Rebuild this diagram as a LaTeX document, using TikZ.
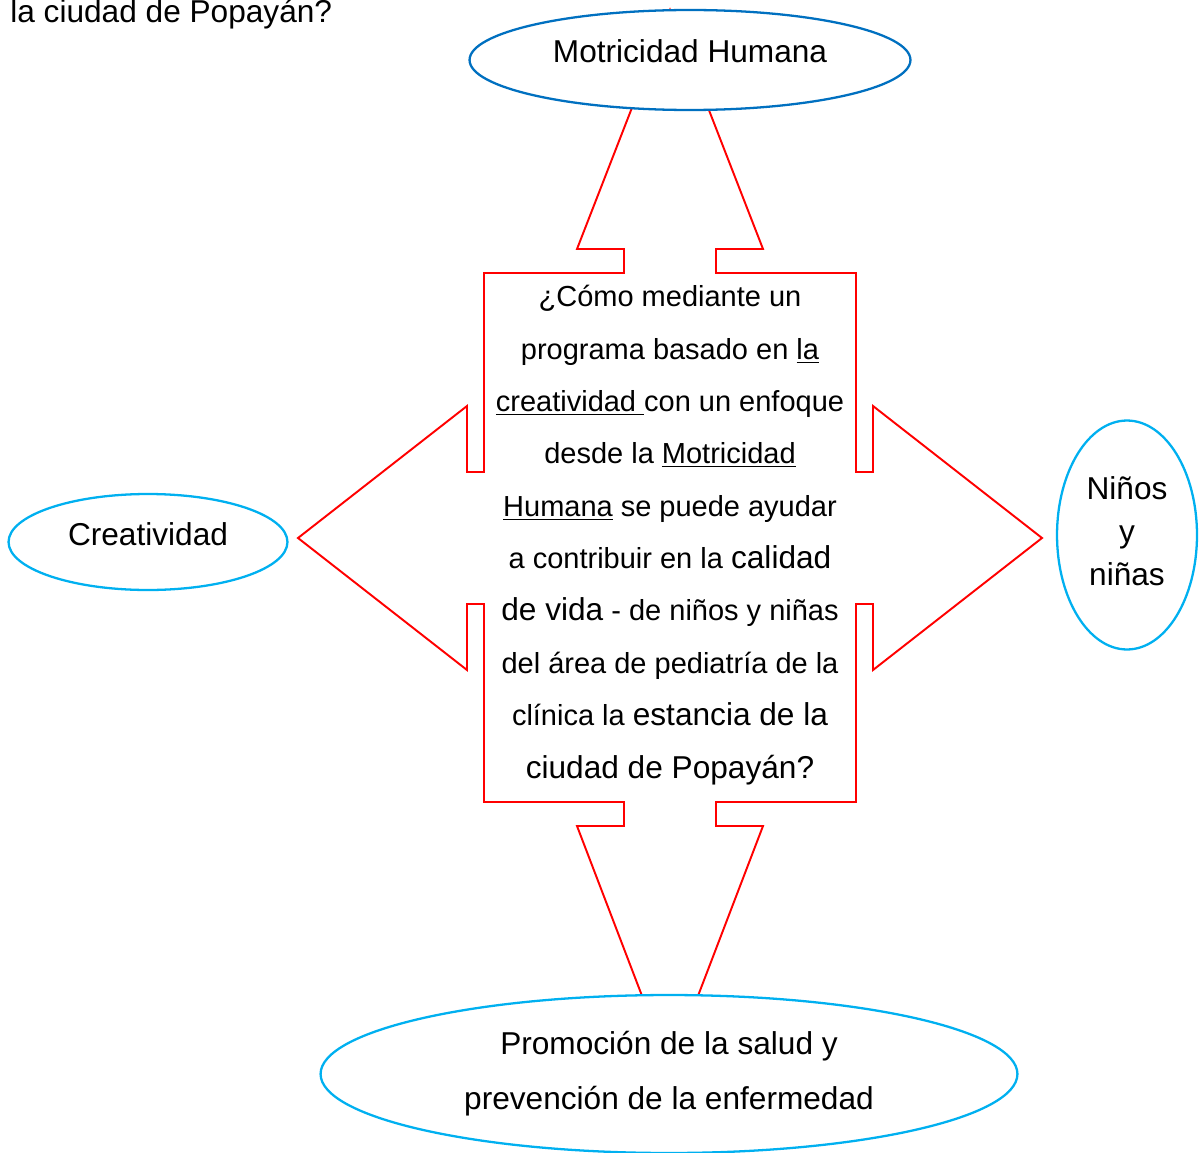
\documentclass[tikz,border=0pt]{standalone}
\usepackage{fontspec}
\setmainfont{Liberation Sans}
\usetikzlibrary{shapes.geometric, positioning}

\definecolor{darkblue}{RGB}{0,112,192}
\definecolor{lightblue}{RGB}{0,176,240}
\newcommand{\grande}[1]{{\fontsize{18}{29.8}\selectfont #1}}

\begin{document}
\begin{tikzpicture}[x=0.02cm, y=-0.02cm,
    concept/.style={shape=ellipse, draw=lightblue, line width=1.3pt, fill=white,
      inner sep=0pt, align=center, font=\fontsize{18}{24}\selectfont},
    question/.style={align=center, inner sep=0pt, font=\fontsize{16.5}{29.8}\selectfont},
    crossarrow/.style={draw=red, line width=1.1pt, line join=miter}]
    \useasboundingbox (0,0) rectangle (1199,1152);

    % Cut text at the top
    \node[anchor=base west, inner sep=0pt, font=\fontsize{18}{24}\selectfont] (fragmento) at (10,23) {la ciudad de Popay\'an?};

    % Draw the four-way arrow
    \draw[crossarrow] (484,273) -- (624,273) -- (624,249) -- (577,249) -- (670,10)
      -- (763,249) -- (716,249) -- (716,273) -- (856,273) -- (856,472) -- (873,472)
      -- (873,406) -- (1042,538) -- (873,670) -- (873,604) -- (856,604) -- (856,802)
      -- (716,802) -- (716,826) -- (763,826) -- (670,1069) -- (577,826) -- (624,826)
      -- (624,802) -- (484,802) -- (484,604) -- (467,604) -- (467,670) -- (298,538)
      -- (467,406) -- (467,472) -- (484,472) -- cycle;

    % Define nodes
    \node[question] (pregunta) at (670,535) {%
      ¿Cómo mediante un\\
      programa basado en \underline{la}\\
      \underline{creatividad }con un enfoque\\
      desde la \underline{Motricidad}\\
      \underline{Humana} se puede ayudar\\
      a contribuir en la \grande{calidad}\\
      \grande{de vida} - de niños y niñas\\
      del área de pediatría de la\\
      clínica la \grande{estancia de la}\\
      \grande{ciudad de Popayán?}};
    \node[concept, draw=darkblue, minimum width=8.82cm, minimum height=2cm, text depth=10pt] (motricidad) at (690,60) {Motricidad Humana};
    \node[concept, minimum width=5.58cm, minimum height=1.92cm, text depth=9pt] (creatividad) at (148,542) {Creatividad};
    \node[concept, minimum width=2.8cm, minimum height=4.58cm, text depth=4.5pt, font=\fontsize{18}{24.4}\selectfont] (ninos) at (1127,535) {Niños\\y\\niñas};
    \node[concept, minimum width=13.94cm, minimum height=3.16cm, font=\fontsize{18}{31.2}\selectfont] (promocion) at (669,1074) {Promoción de la salud y\\prevención de la enfermedad};

\end{tikzpicture}
\end{document}
